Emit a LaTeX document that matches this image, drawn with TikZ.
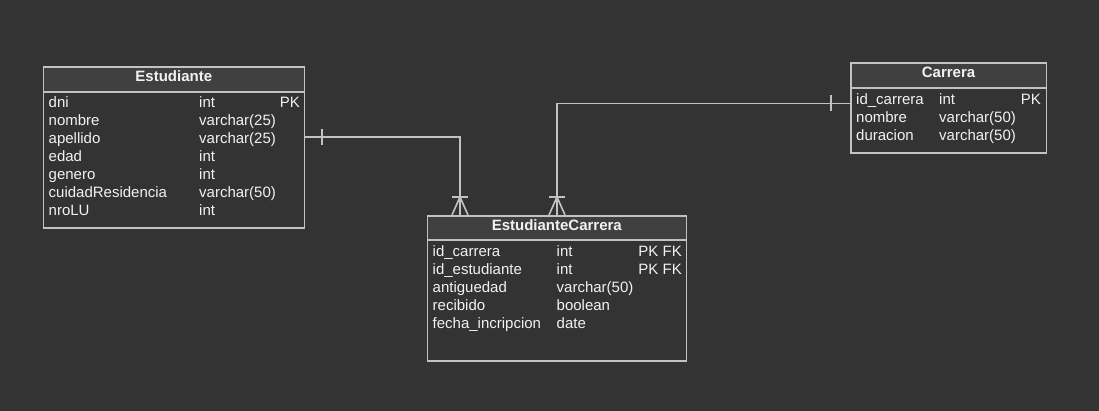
\documentclass[tikz,border=0pt]{standalone}
\usepackage{fontspec}
\setmainfont{Liberation Sans}
\usetikzlibrary{calc}
\definecolor{bgdark}{HTML}{333333}
\definecolor{hdrgray}{HTML}{404040}
\definecolor{linegray}{HTML}{C2C2C2}
\definecolor{txtwhite}{HTML}{F2F2F2}

\begin{document}
\begin{tikzpicture}[x=1pt,y=-1pt,
    tbl/.style={draw=linegray,line width=1.6pt,anchor=north west,inner sep=0pt},
    hdr/.style={tbl,fill=hdrgray},
    hdrtxt/.style={anchor=base,inner sep=0pt,text=txtwhite,font=\bfseries\fontsize{15}{18}\selectfont},
    fld/.style={anchor=base west,inner sep=0pt,text=txtwhite,font=\fontsize{15}{18}\selectfont},
    fkey/.style={fld,anchor=base east},
    rel/.style={draw=linegray,line width=1.6pt}]
	%BACKGROUND
	\fill[bgdark] (0,0) rectangle (1099,411);

	%ESTUDIANTE
	\node[tbl,minimum width=261pt,minimum height=161pt] (est) at (42.5,66.5) {};
	\node[hdr,minimum width=261pt,minimum height=24.5pt] (estH) at (est.north west) {};
	\node[hdrtxt] (estT) at ($(estH.north)+(0,15.5)$) {Estudiante};
	\foreach \fn/\ft/\fk [count=\i] in {dni/int/PK,nombre/{varchar(25)}/{},apellido/{varchar(25)}/{},
	    edad/int/{},genero/int/{},cuidadResidencia/{varchar(50)}/{},nroLU/int/{}}{
		\node[fld] (est-\i) at (48.5,90+18*\i) {\fn};
		\node[fld] (est-\i-t) at (199,90+18*\i) {\ft};
		\node[fkey] (est-\i-k) at (300,90+18*\i) {\fk};
	}

	%ESTUDIANTECARRERA
	\node[tbl,minimum width=259pt,minimum height=145pt] (ec) at (426.5,215) {};
	\node[hdr,minimum width=259pt,minimum height=24.5pt] (ecH) at (ec.north west) {};
	\node[hdrtxt] (ecT) at ($(ecH.north)+(0,16)$) {EstudianteCarrera};
	\foreach \fn/\ft/\fk [count=\i] in {id\_carrera/int/PK FK,id\_estudiante/int/PK FK,
	    antiguedad/{varchar(50)}/{},recibido/boolean/{},fecha\_incripcion/date/{}}{
		\node[fld] (ec-\i) at (432.5,238.5+18*\i) {\fn};
		\node[fld] (ec-\i-t) at (556.5,238.5+18*\i) {\ft};
		\node[fkey] (ec-\i-k) at (682,238.5+18*\i) {\fk};
	}

	%CARRERA
	\node[tbl,minimum width=195.5pt,minimum height=90pt] (car) at (850,62.5) {};
	\node[hdr,minimum width=195.5pt,minimum height=25pt] (carH) at (car.north west) {};
	\node[hdrtxt] (carT) at ($(carH.north)+(0,15.5)$) {Carrera};
	\foreach \fn/\ft/\fk [count=\i] in {id\_carrera/int/PK,nombre/{varchar(50)}/{},duracion/{varchar(50)}/{}}{
		\node[fld] (car-\i) at (856,86.5+18*\i) {\fn};
		\node[fld] (car-\i-t) at (939,86.5+18*\i) {\ft};
		\node[fkey] (car-\i-k) at (1041,86.5+18*\i) {\fk};
	}

	%RELATIONS
	\coordinate (estLink) at ($(est-3.base)+(0,-7)$);
	\coordinate (carLink) at ($(car-1.base)+(0,-1)$);
	\coordinate (ecA) at ($(ec.north west)+(33.5,0)$);
	\coordinate (ecB) at ($(ec.north west)+(130.5,0)$);
	\draw[rel] (est.east |- estLink) -| (ecA);
	\draw[rel] (car.west |- carLink) -| (ecB);
	% one
	\draw[rel] ($(est.east |- estLink)+(17,-8)$) -- ++(0,16);
	\draw[rel] ($(car.west |- carLink)+(-19,-8)$) -- ++(0,16);
	% many
	\foreach \c in {ecA,ecB}{
		\draw[rel] ($(\c)+(-8,-18)$) -- ++(16,0);
		\draw[rel] ($(\c)+(-8,0)$) -- ($(\c)+(0,-18)$) -- ($(\c)+(8,0)$);
	}
\end{tikzpicture}
\end{document}
